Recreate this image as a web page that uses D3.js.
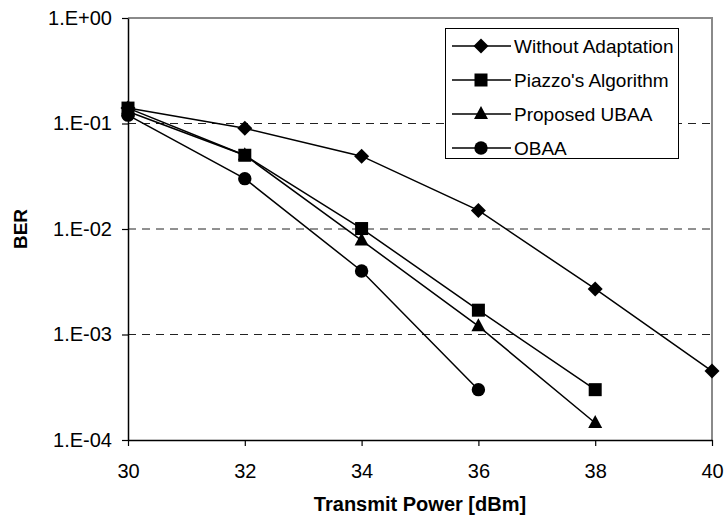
<!DOCTYPE html>
<html>
<head>
<meta charset="utf-8">
<script src="https://cdn.jsdelivr.net/npm/d3@7"></script>
<style>
  html, body { margin: 0; padding: 0; background: #fff; }
  svg { display: block; font-family: Arial, "Liberation Sans", sans-serif; }
</style>
</head>
<body>
<svg id="chart" width="725" height="522"></svg>
<script>
// ---- data ----
const power = [30, 32, 34, 36, 38, 40];
const seriesNames = ["Without Adaptation", "Piazzo's Algorithm", "Proposed UBAA", "OBAA"];
const withoutAdaptation = [0.14, 0.09, 0.049, 0.015, 0.0027, 0.00045];
const piazzo = [0.14, 0.05, 0.0101, 0.0017, 0.0003];
const ubaa = [0.13, 0.05, 0.0078, 0.0012, 0.000145];
const obaa = [0.12, 0.03, 0.004, 0.0003];
const markerTypes = ["diamond", "square", "triangle", "circle"];
const xTicks = [30, 32, 34, 36, 38, 40];
const yTicks = [1, 0.1, 0.01, 0.001, 0.0001];
const yTickLabels = ["1.E+00", "1.E-01", "1.E-02", "1.E-03", "1.E-04"];
const xTitle = "Transmit Power [dBm]";
const yTitle = "BER";

(function () {
const seriesValues = [withoutAdaptation, piazzo, ubaa, obaa];
const series = seriesNames.map((name, i) => ({
  name,
  marker: markerTypes[i],
  points: seriesValues[i].map((v, j) => ({ x: power[j], y: v }))
}));

// ---- layout ----
const svg = d3.select("#chart");
const pL = 128, pT = 18, pR = 712, pB = 440;

const x = d3.scaleLinear().domain([30, 40]).range([pL, pR]);
const y = d3.scaleLog().domain([1e-4, 1]).range([pB, pT]);

// gridlines (dashed)
svg.append("g").selectAll("line")
  .data(yTicks.filter(t => t < 1 && t > 1e-4))
  .join("line")
  .attr("x1", pL).attr("x2", pR)
  .attr("y1", d => y(d)).attr("y2", d => y(d))
  .attr("stroke", "#222").attr("stroke-width", 1)
  .attr("stroke-dasharray", "8,6");

// top & right plot border (gray)
svg.append("path")
  .attr("d", `M${pL},${pT}H${pR}V${pB}`)
  .attr("fill", "none").attr("stroke", "#8a8a8a").attr("stroke-width", 2);

// axes
const yAxis = d3.axisLeft(y).tickValues(yTicks)
  .tickFormat((d, i) => yTickLabels[i]).tickSize(6).tickSizeOuter(0);
const gy = svg.append("g").attr("transform", `translate(${pL},0)`).call(yAxis);
gy.select(".domain").attr("stroke", "#000").attr("stroke-width", 1.5);
gy.selectAll(".tick line").attr("stroke", "#000").attr("stroke-width", 1.2);
gy.selectAll(".tick text").attr("font-size", 20).attr("fill", "#000")
  .attr("font-family", "Arial, 'Liberation Sans', sans-serif").attr("x", -16);

const xAxis = d3.axisBottom(x).tickValues(xTicks).tickFormat(d3.format("d"))
  .tickSize(6).tickSizeOuter(0);
const gx = svg.append("g").attr("transform", `translate(0,${pB})`).call(xAxis);
gx.select(".domain").attr("stroke", "#000").attr("stroke-width", 1.5);
gx.selectAll(".tick line").attr("stroke", "#000").attr("stroke-width", 1.2);
gx.selectAll(".tick text").attr("font-size", 20).attr("fill", "#000")
  .attr("font-family", "Arial, 'Liberation Sans', sans-serif")
  .attr("dy", null).attr("y", 38);

// axis titles
svg.append("text")
  .attr("x", (pL + pR) / 2).attr("y", 511)
  .attr("text-anchor", "middle").attr("font-weight", "bold").attr("font-size", 20)
  .text(xTitle);
svg.append("text")
  .attr("transform", `translate(27,${(pT + pB) / 2}) rotate(-90)`)
  .attr("text-anchor", "middle").attr("font-weight", "bold").attr("font-size", 19)
  .text(yTitle);

// marker drawing
function drawMarker(g, type) {
  if (type === "diamond") {
    g.append("path").attr("d", "M0,-7.5L7.5,0L0,7.5L-7.5,0Z").attr("fill", "#000");
  } else if (type === "square") {
    g.append("rect").attr("x", -6.5).attr("y", -6.5).attr("width", 13).attr("height", 13).attr("fill", "#000");
  } else if (type === "triangle") {
    g.append("path").attr("d", "M0,-8L7,5L-7,5Z").attr("fill", "#000");
  } else {
    g.append("circle").attr("r", 6.7).attr("fill", "#000");
  }
}

const line = d3.line().x(d => x(d.x)).y(d => y(d.y));

const plot = svg.append("g");
series.forEach(s => {
  plot.append("path").datum(s.points)
    .attr("d", line).attr("fill", "none")
    .attr("stroke", "#000").attr("stroke-width", 1.5);
});
series.forEach(s => {
  s.points.forEach(p => {
    const g = plot.append("g").attr("transform", `translate(${x(p.x)},${y(p.y)})`);
    drawMarker(g, s.marker);
  });
});

// legend
const lg = svg.append("g");
lg.append("rect").attr("x", 445.5).attr("y", 28.5).attr("width", 233).attr("height", 130)
  .attr("fill", "#fff").attr("stroke", "#000").attr("stroke-width", 1);
series.forEach((s, i) => {
  const cy = 46 + i * 34;
  lg.append("line").attr("x1", 452).attr("x2", 511).attr("y1", cy).attr("y2", cy)
    .attr("stroke", "#000").attr("stroke-width", 1.5);
  const g = lg.append("g").attr("transform", `translate(481,${cy})`);
  drawMarker(g, s.marker);
  lg.append("text").attr("x", 514).attr("y", cy + 7)
    .attr("font-size", 19).attr("fill", "#000").text(s.name);
});
})();
</script>
</body>
</html>
